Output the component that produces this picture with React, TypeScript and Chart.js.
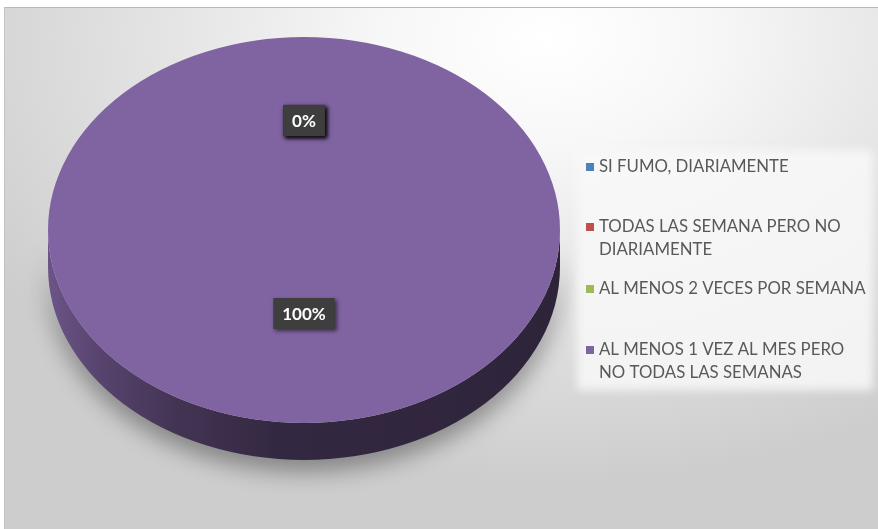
import React, { useEffect, useRef } from "react";
import { Chart, registerables } from "chart.js";

Chart.register(...registerables);

// ---- data ----
const CATEGORIES: string[][] = [
  ["SI FUMO, DIARIAMENTE"],
  ["TODAS LAS SEMANA PERO NO", "DIARIAMENTE"],
  ["AL MENOS 2 VECES POR SEMANA"],
  ["AL MENOS 1 VEZ AL MES PERO", "NO TODAS LAS SEMANAS"],
];
const VALUES: number[] = [0, 0, 0, 100];
const COLORS: string[] = ["#4f81bd", "#c0504d", "#9bbb59", "#8064a2"];

// ---- layout (page coordinates) ----
const OX = 5;
const OY = 8;
const W = 878 - OX;
const H = 529 - OY;
const PIE_CX = 304 - OX;
const PIE_CY = 230 - OY;
const PIE_R = 256;
const TILT = 0.754;
const DEPTH = 37;
const LEGEND_Y = [167, 227, 289, 350].map((v) => v - OY);
const LEGEND_TEXT_X = 599 - OX;
const LEGEND_LINE = 23;
const FONT = "Lato, 'Noto Sans', sans-serif";

function shade(hex: string, f: number): string {
  const n = parseInt(hex.slice(1), 16);
  const r = Math.round(((n >> 16) & 255) * f);
  const g = Math.round(((n >> 8) & 255) * f);
  const b = Math.round((n & 255) * f);
  return `rgb(${r},${g},${b})`;
}

const pie3d = {
  id: "pie3d",
  beforeDatasetsDraw(chart: any) {
    const ctx: CanvasRenderingContext2D = chart.ctx;
    const meta = chart.getDatasetMeta(0);
    const first: any = meta.data[0];
    const cx = first.x;
    const cy = first.y;
    const r = first.outerRadius;
    const ry = r * TILT;
    // side walls
    meta.data.forEach((arc: any, i: number) => {
      const s = arc.startAngle;
      const e = arc.endAngle;
      if (e - s <= 0) return;
      const col = COLORS[i];
      for (const off of [-2 * Math.PI, 0, 2 * Math.PI]) {
        const a = Math.max(s + off, 0);
        const b = Math.min(e + off, Math.PI);
        if (b <= a) continue;
        ctx.save();
        const g = ctx.createLinearGradient(PIE_CX - r, 0, PIE_CX + r, 0);
        g.addColorStop(0, shade(col, 0.84));
        g.addColorStop(0.1, shade(col, 0.68));
        g.addColorStop(0.25, shade(col, 0.52));
        g.addColorStop(0.45, shade(col, 0.4));
        g.addColorStop(1, shade(col, 0.36));
        ctx.beginPath();
        ctx.ellipse(PIE_CX, PIE_CY, r, ry, 0, a, b);
        ctx.ellipse(PIE_CX, PIE_CY + DEPTH, r, ry, 0, b, a, true);
        ctx.closePath();
        ctx.shadowColor = "rgba(0,0,0,0.35)";
        ctx.shadowBlur = 22;
        ctx.shadowOffsetY = 12;
        ctx.fillStyle = g;
        ctx.fill();
        ctx.restore();
      }
    });
    ctx.save();
    ctx.translate(PIE_CX, PIE_CY);
    ctx.scale(1, TILT);
    ctx.translate(-cx, -cy);
  },
  afterDatasetsDraw(chart: any) {
    const ctx: CanvasRenderingContext2D = chart.ctx;
    ctx.restore();
    const meta = chart.getDatasetMeta(0);
    const data: number[] = chart.data.datasets[0].data;
    const total = data.reduce((a, b) => a + b, 0);
    // data labels
    meta.data.forEach((arc: any, i: number) => {
      const mid = (arc.startAngle + arc.endAngle) / 2;
      const rr = arc.outerRadius * 0.5;
      const x = PIE_CX + Math.cos(mid) * rr;
      const y = PIE_CY + Math.sin(mid) * rr * TILT - 13;
      const txt = `${Math.round((data[i] / total) * 100)}%`;
      ctx.save();
      ctx.font = `bold 17px ${FONT}`;
      const tw = ctx.measureText(txt).width;
      const bw = tw + 18;
      const bh = 31;
      ctx.shadowColor = "rgba(0,0,0,0.55)";
      ctx.shadowBlur = 4;
      ctx.shadowOffsetX = 2;
      ctx.shadowOffsetY = 2;
      ctx.fillStyle = "#3e3e3e";
      ctx.fillRect(x - bw / 2, y - bh / 2, bw, bh);
      ctx.restore();
      ctx.save();
      ctx.font = `bold 17px ${FONT}`;
      ctx.fillStyle = "#ffffff";
      ctx.textAlign = "center";
      ctx.textBaseline = "middle";
      ctx.fillText(txt, x, y + 1);
      ctx.restore();
    });
    // legend
    ctx.save();
    ctx.filter = "blur(4px)";
    ctx.fillStyle = "rgba(248,248,248,0.85)";
    ctx.fillRect(577 - OX, 150 - OY, 296, 240);
    ctx.restore();
    CATEGORIES.forEach((lines, i) => {
      const y0 = LEGEND_Y[i];
      ctx.save();
      ctx.fillStyle = COLORS[i];
      ctx.fillRect(LEGEND_TEXT_X - 13, y0 - 4, 8, 8);
      ctx.font = `16.8px ${FONT}`;
      ctx.fillStyle = "#595959";
      ctx.textBaseline = "middle";
      lines.forEach((ln, j) => ctx.fillText(ln, LEGEND_TEXT_X, y0 + j * LEGEND_LINE));
      ctx.restore();
    });
  },
};

export default function App() {
  const ref = useRef<HTMLCanvasElement>(null);
  useEffect(() => {
    if (!ref.current) return;
    const chart = new Chart(ref.current, {
      type: "pie",
      data: {
        labels: CATEGORIES.map((l) => l.join(" ")),
        datasets: [
          { data: VALUES, backgroundColor: COLORS, borderWidth: 0, hoverOffset: 0 },
        ],
      },
      options: {
        animation: false,
        responsive: true,
        maintainAspectRatio: false,
        layout: {
          padding: {
            left: PIE_CX - PIE_R,
            right: W - (PIE_CX + PIE_R),
            top: 4,
            bottom: H - 4 - 2 * PIE_R,
          },
        },
        plugins: { legend: { display: false }, tooltip: { enabled: false } },
        events: [],
      },
      plugins: [pie3d],
    });
    return () => chart.destroy();
  }, []);
  return (
    <div
      style={{
        position: "absolute",
        left: OX - 1,
        top: OY - 1,
        width: W,
        height: H,
        borderTop: "1px solid #b8b8b8",
        borderLeft: "1px solid #c4c4c4",
        background:
          "radial-gradient(ellipse 75% 85% at 62% 6%, #ffffff 0%, #f7f7f7 25%, #e3e3e3 60%, #cdcdcd 100%)",
      }}
    >
      <canvas ref={ref} />
    </div>
  );
}
